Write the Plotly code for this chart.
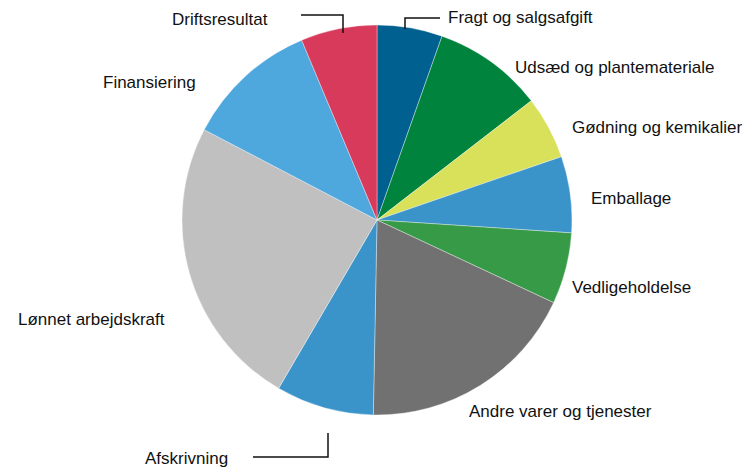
import plotly.graph_objects as go

labels = ["Fragt og salgsafgift", "Udsæd og plantemateriale", "Gødning og kemikalier",
          "Emballage", "Vedligeholdelse", "Andre varer og tjenester", "Afskrivning",
          "Lønnet arbejdskraft", "Finansiering", "Driftsresultat"]
values = [5.4, 9.1, 5.2, 6.3, 5.9, 18.3, 8.1, 24.2, 11.0, 6.3]
colors = ["#00608f", "#00843d", "#d9e05a", "#3a93c9", "#379a47", "#717171",
          "#3a93c9", "#c0c0c0", "#4ea7dd", "#d73a5a"]

W, H = 747, 470
FONT = "Liberation Sans Narrow, Arial Narrow, Liberation Sans, sans-serif"

def px(x):
    return x / W

def py(y):
    return 1 - y / H

cx, cy, r = 377, 220, 195

fig = go.Figure(go.Pie(
    labels=labels, values=values, sort=False, direction="clockwise", rotation=0,
    marker=dict(colors=colors, line=dict(color="rgba(255,255,255,0.6)", width=0.6)),
    textinfo="none", hoverinfo="label+value", showlegend=False,
    domain=dict(x=[px(cx - r), px(cx + r)], y=[py(cy + r), py(cy - r)]),
))

# label positions (pixel, anchor)
label_pos = [
    (446, 18, "left"),
    (513, 67, "left"),
    (570, 127, "left"),
    (589, 198, "left"),
    (570, 287, "left"),
    (467, 411, "left"),
    (230, 458, "right"),
    (167, 319, "right"),
    (198, 82, "right"),
    (270, 19, "right"),
]
annotations = []
for lab, (x, y, anchor) in zip(labels, label_pos):
    annotations.append(dict(
        x=px(x), y=py(y), xref="paper", yref="paper", text=lab, showarrow=False,
        xanchor=anchor, yanchor="middle", font=dict(family=FONT, size=17, color="#111111"),
    ))

leaders = [
    [(301, 15), (343, 15), (343, 33)],
    [(405, 29), (405, 18), (440, 18)],
    [(253, 457), (328, 457), (328, 433)],
]
shapes = []
for pts in leaders:
    path = "M " + " L ".join(f"{px(x)},{py(y)}" for x, y in pts)
    shapes.append(dict(type="path", path=path, xref="paper", yref="paper",
                       line=dict(color="#111111", width=1.5)))

fig.update_layout(
    width=W, height=H, margin=dict(l=0, r=0, t=0, b=0),
    paper_bgcolor="white", plot_bgcolor="white",
    annotations=annotations, shapes=shapes,
)
fig.write_html("out.html", config={"displayModeBar": False},
               post_script="document.body.style.margin='0';document.body.style.overflow='hidden';")
